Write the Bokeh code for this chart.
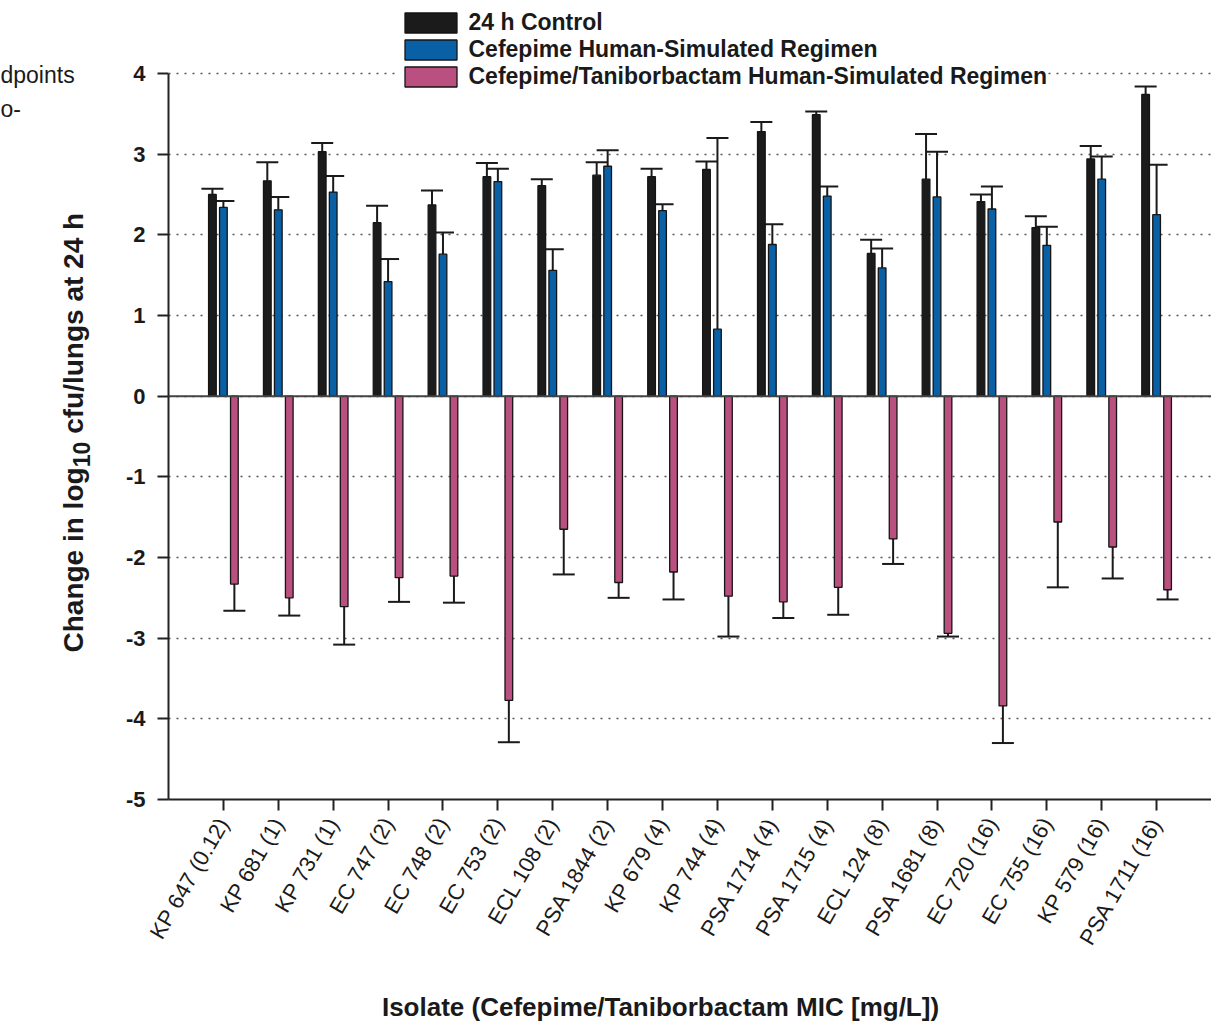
import math
from bokeh.plotting import figure
from bokeh.layouts import row, column
from bokeh.models import (ColumnDataSource, FactorRange, Range1d, FixedTicker, Whisker, TeeHead,
                          Legend, LegendItem, Span, Label)
from bokeh.transform import dodge
from bokeh.embed import file_html
from bokeh.resources import INLINE

# ---------------- data ----------------
isolates = ["KP 647 (0.12)", "KP 681 (1)", "KP 731 (1)", "EC 747 (2)", "EC 748 (2)", "EC 753 (2)",
            "ECL 108 (2)", "PSA 1844 (2)", "KP 679 (4)", "KP 744 (4)", "PSA 1714 (4)", "PSA 1715 (4)",
            "ECL 124 (8)", "PSA 1681 (8)", "EC 720 (16)", "EC 755 (16)", "KP 579 (16)", "PSA 1711 (16)"]

control = [2.50, 2.67, 3.03, 2.15, 2.37, 2.72, 2.61, 2.74, 2.72,
           2.81, 3.28, 3.49, 1.77, 2.69, 2.41, 2.09, 2.94, 3.74]
control_sd = [0.07, 0.23, 0.11, 0.21, 0.18, 0.17, 0.08, 0.16, 0.10,
              0.10, 0.12, 0.04, 0.17, 0.56, 0.09, 0.14, 0.16, 0.10]

cefepime = [2.34, 2.31, 2.53, 1.42, 1.76, 2.66, 1.56, 2.85, 2.30,
            0.83, 1.88, 2.48, 1.59, 2.47, 2.32, 1.87, 2.69, 2.25]
cefepime_sd = [0.08, 0.16, 0.20, 0.28, 0.27, 0.16, 0.26, 0.20, 0.08,
               2.37, 0.25, 0.12, 0.24, 0.56, 0.28, 0.23, 0.28, 0.62]

fep_tan = [-2.33, -2.50, -2.61, -2.25, -2.23, -3.77, -1.65, -2.31, -2.18,
           -2.48, -2.55, -2.37, -1.77, -2.94, -3.84, -1.56, -1.87, -2.40]
fep_tan_sd = [0.33, 0.22, 0.47, 0.30, 0.33, 0.52, 0.56, 0.19, 0.34,
              0.50, 0.20, 0.34, 0.31, 0.04, 0.46, 0.81, 0.39, 0.12]

y_ticks = [-5, -4, -3, -2, -1, 0, 1, 2, 3, 4]
y_tick_labels = ["-5", "-4", "-3", "-2", "-1", "0", "1", "2", "3", "4"]
series_names = ["24 h Control", "Cefepime Human-Simulated Regimen",
                "Cefepime/Taniborbactam Human-Simulated Regimen"]
colors = ["#1b1b1b", "#0a60a5", "#b9507f"]

x_label = "Isolate (Cefepime/Taniborbactam MIC [mg/L])"
y_label_parts = ["Change in log", "10", "cfu/lungs at 24 h"]
side_text = ["dpoints", "o-"]

# ---------------- layout constants ----------------
FONT = "Liberation Sans"
TXT = "#1a1a1a"
TOTAL_W, TOTAL_H = 1211, 1023
LEFT_W = 122          # strip holding the y title and the side text
TOP_H = 975           # height of the row with the chart
BOTTOM_BORDER = 176   # space under the chart frame (tick labels)
Y_TOP = 4.905         # frame extends above the top tick so the legend fits inside it


def blank(width, height, y_start, min_bottom):
    f = figure(width=width, height=height, x_range=Range1d(0, width),
               y_range=Range1d(y_start, height),
               x_axis_location=None, y_axis_location=None,
               output_backend="svg", toolbar_location=None,
               min_border=0, min_border_left=0, min_border_right=0,
               min_border_top=0, min_border_bottom=min_bottom)
    f.grid.visible = False
    f.outline_line_color = None
    f.background_fill_color = "white"
    f.border_fill_color = "white"
    return f

# ---------------- main chart ----------------
src = ColumnDataSource(dict(
    isolate=isolates,
    control=control, control_hi=[m + s for m, s in zip(control, control_sd)],
    cefepime=cefepime, cefepime_hi=[m + s for m, s in zip(cefepime, cefepime_sd)],
    fep_tan=fep_tan, fep_tan_lo=[m - s for m, s in zip(fep_tan, fep_tan_sd)],
))

p = figure(x_range=FactorRange(factors=isolates, range_padding=0.5, range_padding_units="absolute"),
           y_range=Range1d(-5, Y_TOP), width=TOTAL_W - LEFT_W, height=TOP_H,
           output_backend="svg", toolbar_location=None,
           min_border_left=45, min_border_right=0, min_border_top=0,
           min_border_bottom=BOTTOM_BORDER)
p.outline_line_color = None
p.background_fill_color = "white"
p.border_fill_color = "white"

p.xaxis.major_label_orientation = math.pi / 3
p.xaxis.major_label_text_font = FONT
p.xaxis.major_label_text_font_size = "22px"
p.xaxis.major_label_text_color = TXT
p.xaxis.major_label_standoff = 9
p.xaxis.axis_line_width = 2
p.xaxis.axis_line_color = "#222222"
p.xaxis.major_tick_out = 11
p.xaxis.major_tick_in = 0
p.xaxis.major_tick_line_width = 2
p.xaxis.major_tick_line_color = "#222222"
p.xgrid.visible = False

p.yaxis.ticker = FixedTicker(ticks=y_ticks)
p.yaxis.major_label_overrides = {t: s for t, s in zip(y_ticks, y_tick_labels)}
p.yaxis.bounds = (-5, 4)
p.yaxis.major_label_text_font = FONT
p.yaxis.major_label_text_font_style = "bold"
p.yaxis.major_label_text_font_size = "22px"
p.yaxis.major_label_text_color = TXT
p.yaxis.major_label_standoff = 12
p.yaxis.axis_line_width = 2
p.yaxis.axis_line_color = "#222222"
p.yaxis.major_tick_out = 11
p.yaxis.major_tick_in = 0
p.yaxis.major_tick_line_width = 2
p.yaxis.major_tick_line_color = "#222222"
p.yaxis.minor_tick_line_color = None

p.ygrid.grid_line_color = "#555555"
p.ygrid.grid_line_dash = "2 6"
p.ygrid.grid_line_width = 1.4

p.add_layout(Span(location=0, dimension="width", line_color="#444444", line_width=2))

offsets = [-0.2, 0.0, 0.2]
fields = ["control", "cefepime", "fep_tan"]
renderers = []
for off, f, c in zip(offsets, fields, colors):
    r = p.vbar(x=dodge("isolate", off, range=p.x_range), top=f, bottom=0, width=0.14,
               source=src, fill_color=c, line_color="#151515", line_width=1.3)
    renderers.append(r)


def tee():
    return TeeHead(size=22, line_width=2, line_color="#1a1a1a")

p.add_layout(Whisker(source=src, base=dodge("isolate", -0.2, range=p.x_range),
                     lower="control", upper="control_hi", line_width=2, line_color="#1a1a1a",
                     upper_head=tee(), lower_head=None))
p.add_layout(Whisker(source=src, base=dodge("isolate", 0.0, range=p.x_range),
                     lower="cefepime", upper="cefepime_hi", line_width=2, line_color="#1a1a1a",
                     upper_head=tee(), lower_head=None))
p.add_layout(Whisker(source=src, base=dodge("isolate", 0.2, range=p.x_range),
                     lower="fep_tan_lo", upper="fep_tan", line_width=2, line_color="#1a1a1a",
                     lower_head=tee(), upper_head=None))

legend = Legend(items=[LegendItem(label=n, renderers=[r]) for n, r in zip(series_names, renderers)],
                location=(229.5, 709.5), glyph_width=65, glyph_height=25, label_height=25,
                spacing=0, padding=0, margin=0, label_standoff=6,
                label_text_font=FONT, label_text_font_style="bold", label_text_font_size="23px",
                label_text_color=TXT, border_line_color=None,
                background_fill_color="white", background_fill_alpha=1.0)
p.add_layout(legend)

# ---------------- left strip: y title + side text (data y = TOP_H - page y) ----------------
left = blank(LEFT_W, TOP_H, BOTTOM_BORDER, BOTTOM_BORDER)
fs_main, fs_sub = 28, 23
w1 = 6.612 * fs_main
w2 = 1.112 * fs_sub
gap = 8
y0 = TOP_H - 652
common = dict(angle=math.pi / 2, text_align="left", text_baseline="alphabetic",
              text_font=FONT, text_font_style="bold", text_color=TXT)
left.add_layout(Label(x=73, y=y0, text=y_label_parts[0], text_font_size=f"{fs_main}px", **common))
left.add_layout(Label(x=81, y=y0 + w1, text=y_label_parts[1], text_font_size=f"{fs_sub}px", **common))
left.add_layout(Label(x=73, y=y0 + w1 + w2 + gap, text=y_label_parts[2],
                      text_font_size=f"{fs_main}px", **common))

left.add_layout(Label(x=0, y=TOP_H - 74, text=side_text[0], text_align="left", text_baseline="alphabetic",
                      text_font=FONT, text_font_size="23px", text_color=TXT))
left.add_layout(Label(x=0, y=TOP_H - 108, text=side_text[1], text_align="left", text_baseline="alphabetic",
                      text_font=FONT, text_font_size="23px", text_color=TXT))

# ---------------- bottom strip: x title ----------------
BOT_H = TOTAL_H - TOP_H
bottom = blank(TOTAL_W, BOT_H, 0, 0)
bottom.add_layout(Label(x=660, y=BOT_H - (1006 - TOP_H), text=x_label, text_align="center",
                        text_baseline="alphabetic", text_font=FONT, text_font_style="bold",
                        text_font_size="26px", text_color=TXT))

layout = column(row(left, p, spacing=0), bottom, spacing=0)
open("out.html", "w").write(file_html(layout, INLINE))
